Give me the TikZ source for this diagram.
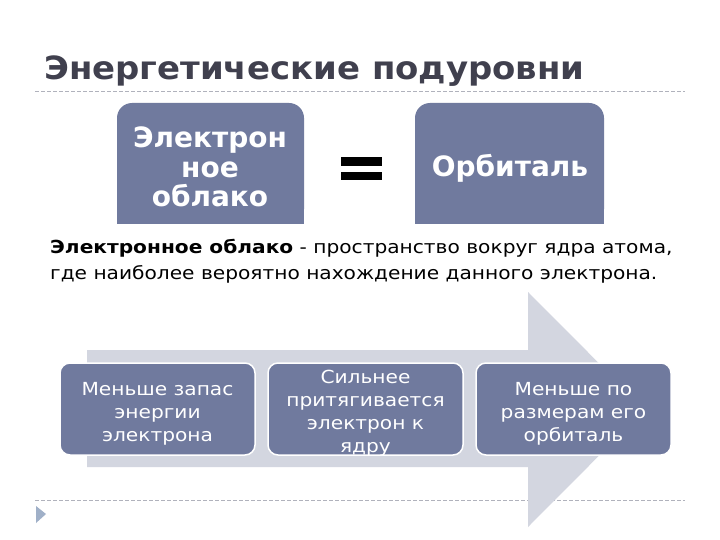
\documentclass[tikz,border=0pt]{standalone}
\usepackage{fontspec}
\setmainfont{DejaVu Sans}
\newfontfamily\titlefont[FakeStretch=1.06]{DejaVu Sans}
\newfontfamily\widefont[FakeStretch=1.12]{DejaVu Sans}
\definecolor{boxc}{RGB}{112,122,158}
\definecolor{arrowc}{RGB}{211,214,224}
\definecolor{titlec}{RGB}{64,64,78}
\definecolor{dashc}{RGB}{176,178,188}
\definecolor{bulletc}{RGB}{160,176,200}
\begin{document}
\begin{tikzpicture}[x=1pt,y=-1pt,
  lowbox/.style={draw=white, line width=1.5pt, fill=boxc, rounded corners=10pt,
    minimum width=195pt, minimum height=92pt, inner sep=0pt},
  lowtext/.style={text=white, align=center, anchor=base, font=\widefont\fontsize{18}{23}\selectfont, inner sep=0pt},
  toptext/.style={text=white, align=center, anchor=base, font=\fontsize{28}{29.5}\selectfont\bfseries, inner sep=0pt},
  deftext/.style={anchor=base west, inner sep=0pt, font=\widefont\fontsize{18}{24}\selectfont},
  dashline/.style={draw=dashc, dashed, dash pattern=on 4pt off 2pt, line width=0.7pt}]
\useasboundingbox (0,0) rectangle (720,540);
\fill[white] (0,0) rectangle (720,540);
% title
\node[anchor=base west, inner sep=0pt, text=titlec, font=\titlefont\fontsize{32}{36}\selectfont\bfseries] (title) at (44,80) {Энергетические подуровни};
\draw[dashline] (35,91) -- (685,91);
% top boxes
\fill[boxc, rounded corners=15pt] (117,103) rectangle (304,224);
\fill[boxc] (117,160) rectangle (304,224);
\fill[boxc, rounded corners=15pt] (415,103) rectangle (604,224);
\fill[boxc] (415,160) rectangle (604,224);
\node[toptext] (cloud) at (210,207) {Электрон\\ное\\облако};
\node[toptext] (orb) at (510,177) {Орбиталь};
% equals sign
\fill[black] (341,157) rectangle (382,166);
\fill[black] (341,172) rectangle (382,180.5);
% definition
\node[deftext] (def1) at (50,253) {\textbf{Электронное облако} - пространство вокруг ядра атома,};
\node[deftext] (def2) at (50,279) {где наиболее вероятно нахождение данного электрона.};
% bottom dashed line
\draw[dashline] (35,500) -- (685,500);
% big arrow
\fill[arrowc] (87,350) -- (528,350) -- (528,292) -- (645,409.5) -- (528,527) -- (528,467) -- (87,467) -- cycle;
% bottom boxes
\node[lowbox] (b1) at (157.5,409) {};
\node[lowbox] (b2) at (365.5,409) {};
\node[lowbox] (b3) at (573.5,409) {};
\node[lowtext] (t1) at (157.5,441) {Меньше запас\\энергии\\электрона};
\node[lowtext] (t2) at (365.5,452) {Сильнее\\притягивается\\электрон к\\ядру};
\node[lowtext] (t3) at (573.5,441) {Меньше по\\размерам его\\орбиталь};
% bullet
\fill[bulletc] (36,506) -- (46,514) -- (36,523) -- cycle;
\end{tikzpicture}
\end{document}
